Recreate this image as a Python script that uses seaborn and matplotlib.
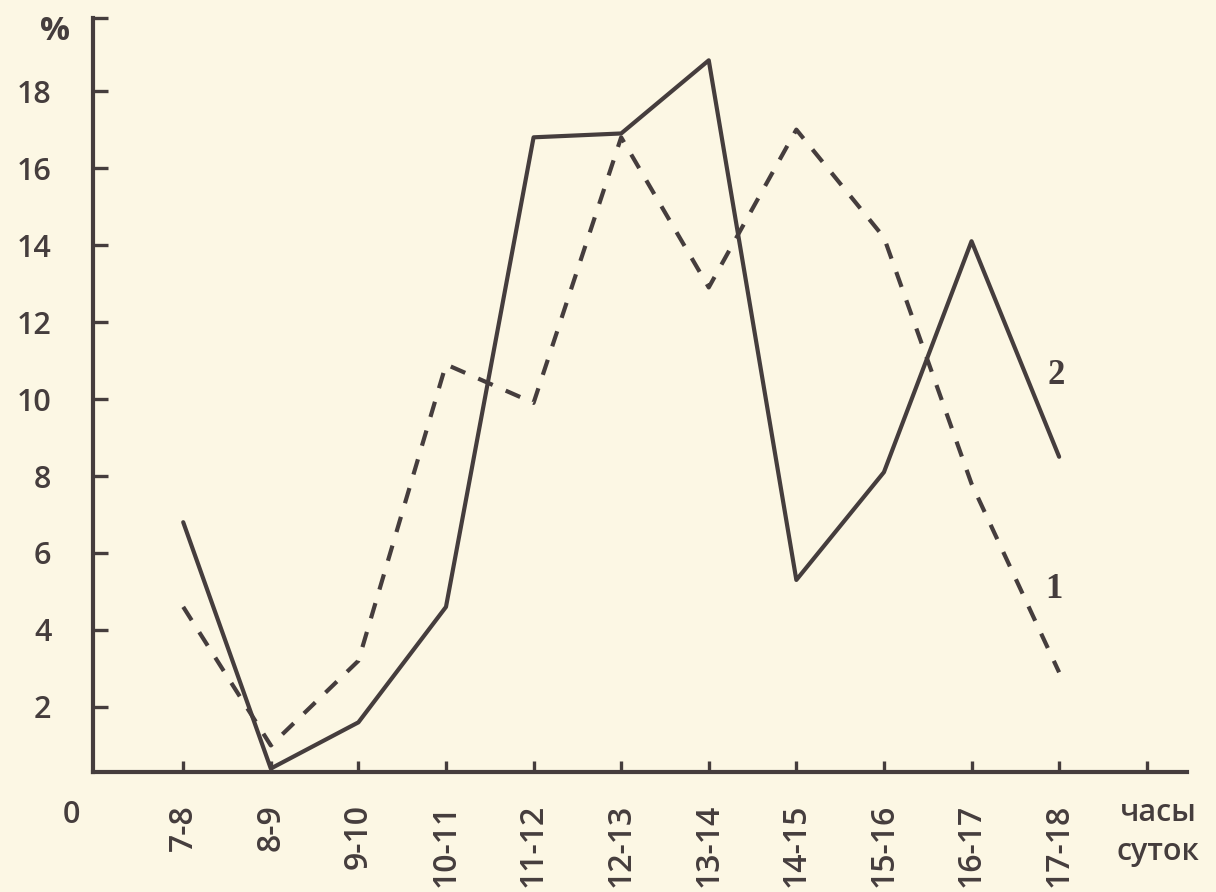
import matplotlib
matplotlib.use("Agg")
import matplotlib.pyplot as plt
import seaborn as sns
import pandas as pd
import numpy as np

# ---- data ----
categories = ["7-8", "8-9", "9-10", "10-11", "11-12", "12-13",
              "13-14", "14-15", "15-16", "16-17", "17-18"]
series_2 = [6.8, 0.4, 1.6, 4.6, 16.8, 16.9, 18.8, 5.3, 8.1, 14.1, 8.5]   # solid
series_1 = [4.6, 1.0, 3.2, 10.9, 9.9, 16.8, 12.9, 17.0, 14.2, 7.8, 2.9]  # dashed
y_ticks = [2, 4, 6, 8, 10, 12, 14, 16, 18]

sns.set_theme(style="white")
plt.rcParams['font.family'] = ['Open Sans', 'DejaVu Sans']

bg = "#FCF7E4"
ink = "#453D3D"

pos = np.arange(len(categories))
df = pd.DataFrame({
    "pos": np.concatenate([pos, pos]),
    "value": series_1 + series_2,
    "series": ["1"] * len(categories) + ["2"] * len(categories),
})

fig = plt.figure(figsize=(12.16, 8.92), dpi=100, facecolor=bg)
ax = fig.add_axes([93 / 1216, 1 - 772 / 892, (1187 - 93) / 1216, (772 - 18) / 892])
ax.set_facecolor(bg)

sns.lineplot(data=df[df.series == "2"], x="pos", y="value", ax=ax,
             color=ink, linewidth=3.0, legend=False)
sns.lineplot(data=df[df.series == "1"], x="pos", y="value", ax=ax,
             color=ink, linewidth=3.0, legend=False)
ax.lines[1].set_dashes((3.8, 3.4))

ax.set_xlim(-1.03, 11.46)
ylo, yhi = 0.31, 19.9
ax.set_ylim(ylo, yhi)

for side in ["top", "right"]:
    ax.spines[side].set_visible(False)
for side in ["left", "bottom"]:
    ax.spines[side].set_color(ink)
    ax.spines[side].set_linewidth(3.0)

ax.set_xticks(list(pos) + [len(categories)])
ax.set_xticklabels(categories + [""], rotation=90, fontsize=23, color=ink,
                   va="top", fontweight="semibold")
ax.set_yticks(y_ticks + [yhi])
ax.set_yticklabels([str(v) for v in y_ticks] + [""], fontsize=22, color=ink,
                   fontweight="semibold")
ax.tick_params(axis="x", bottom=True, direction="in", length=8, width=2.4,
               color=ink, pad=23)
ax.tick_params(axis="y", left=True, direction="in", length=11, width=2.4,
               color=ink, pad=30)
ax.set_xlabel("")
ax.set_ylabel("")

fig.text(55 / 1216, 1 - 32 / 892, "%", fontsize=24, color=ink,
         ha="center", va="center", fontweight="bold")
fig.text(71 / 1216, 1 - 815 / 892, "0", fontsize=22, color=ink,
         ha="center", va="center", fontweight="semibold")
fig.text(1158 / 1216, 1 - 813 / 892, "часы", fontsize=22, color=ink,
         ha="center", va="center", fontweight="semibold")
fig.text(1158 / 1216, 1 - 852 / 892, "суток", fontsize=22, color=ink,
         ha="center", va="center", fontweight="semibold")

ax.text(9.97, 10.6, "2", fontsize=25, color=ink, fontweight="bold",
        family=["Liberation Serif", "DejaVu Serif"], ha="center", va="center")
ax.text(9.94, 5.05, "1", fontsize=25, color=ink, fontweight="bold",
        family=["Liberation Serif", "DejaVu Serif"], ha="center", va="center")

fig.savefig("out.png", dpi=100, facecolor=bg)
